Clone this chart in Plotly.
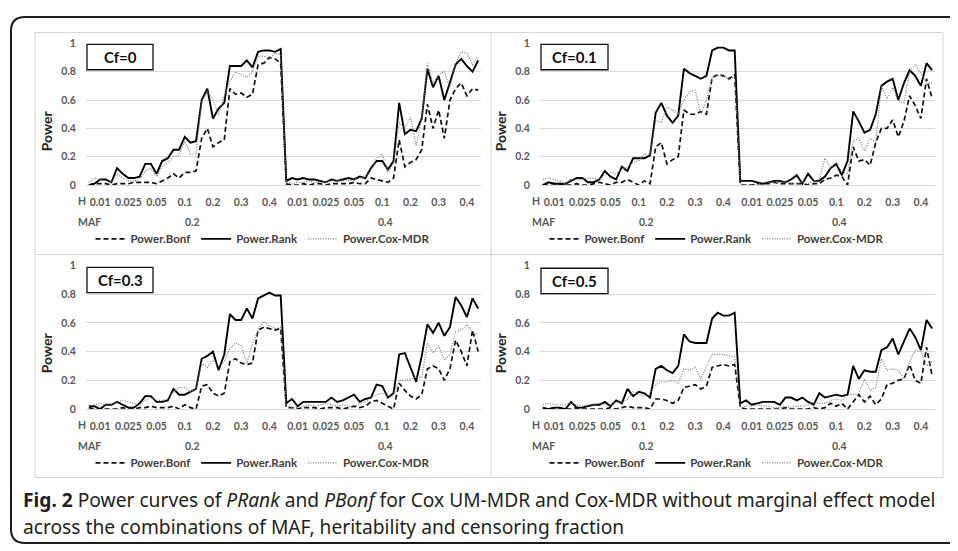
import plotly.graph_objects as go

# ---------------- data ----------------
MAF_LEVELS = ["0.2", "0.4"]
H_LEVELS = ["0.01", "0.025", "0.05", "0.1", "0.2", "0.3", "0.4"]
MODELS_PER_H = 5
CF_LABELS = ["Cf=0", "Cf=0.1", "Cf=0.3", "Cf=0.5"]
SERIES_NAMES = ["Power.Bonf", "Power.Rank", "Power.Cox-MDR"]

BONF_CF0 = [0.00, 0.01, 0.01, 0.01, 0.00, 0.01, 0.01, 0.01, 0.02, 0.02,
            0.02, 0.02, 0.01, 0.03, 0.05, 0.08, 0.05, 0.09, 0.09, 0.10,
            0.33, 0.40, 0.27, 0.30, 0.32, 0.68, 0.64, 0.65, 0.62, 0.64,
            0.85, 0.86, 0.90, 0.89, 0.86, 0.01, 0.00, 0.00, 0.01, 0.00,
            0.01, 0.01, 0.00, 0.01, 0.01, 0.01, 0.01, 0.02, 0.01, 0.01,
            0.05, 0.04, 0.03, 0.02, 0.05, 0.32, 0.13, 0.16, 0.18, 0.25,
            0.57, 0.40, 0.53, 0.33, 0.60, 0.68, 0.72, 0.63, 0.68, 0.67]
RANK_CF0 = [0.00, 0.01, 0.04, 0.04, 0.02, 0.12, 0.08, 0.05, 0.05, 0.06,
            0.15, 0.15, 0.08, 0.17, 0.19, 0.25, 0.25, 0.34, 0.30, 0.31,
            0.60, 0.68, 0.47, 0.54, 0.58, 0.84, 0.84, 0.84, 0.88, 0.83,
            0.94, 0.95, 0.95, 0.94, 0.96, 0.03, 0.05, 0.04, 0.05, 0.04,
            0.04, 0.03, 0.02, 0.04, 0.03, 0.04, 0.05, 0.04, 0.06, 0.05,
            0.12, 0.17, 0.17, 0.11, 0.17, 0.58, 0.36, 0.39, 0.38, 0.47,
            0.82, 0.69, 0.77, 0.60, 0.73, 0.85, 0.89, 0.84, 0.80, 0.88]
COX_CF0 = [0.02, 0.05, 0.04, 0.03, 0.02, 0.08, 0.05, 0.03, 0.03, 0.04,
           0.10, 0.12, 0.06, 0.13, 0.16, 0.20, 0.21, 0.31, 0.22, 0.22,
           0.59, 0.66, 0.60, 0.50, 0.63, 0.73, 0.80, 0.78, 0.76, 0.80,
           0.91, 0.91, 0.89, 0.93, 0.92, 0.02, 0.01, 0.02, 0.02, 0.03,
           0.02, 0.02, 0.02, 0.03, 0.03, 0.03, 0.03, 0.04, 0.05, 0.06,
           0.10, 0.19, 0.22, 0.09, 0.15, 0.44, 0.40, 0.48, 0.28, 0.47,
           0.86, 0.72, 0.78, 0.80, 0.69, 0.86, 0.94, 0.93, 0.85, 0.91]

BONF_CF01 = [0.00, 0.01, 0.01, 0.01, 0.00, 0.00, 0.01, 0.00, 0.00, 0.01,
             0.02, 0.01, 0.00, 0.02, 0.02, 0.04, 0.02, 0.00, 0.03, 0.01,
             0.27, 0.30, 0.15, 0.18, 0.20, 0.53, 0.50, 0.50, 0.52, 0.50,
             0.76, 0.78, 0.77, 0.75, 0.78, 0.00, 0.00, 0.00, 0.01, 0.01,
             0.01, 0.02, 0.01, 0.01, 0.01, 0.01, 0.01, 0.00, 0.01, 0.01,
             0.04, 0.05, 0.07, 0.06, 0.00, 0.27, 0.17, 0.18, 0.14, 0.30,
             0.40, 0.40, 0.46, 0.34, 0.45, 0.63, 0.56, 0.47, 0.75, 0.61]
RANK_CF01 = [0.00, 0.02, 0.01, 0.01, 0.01, 0.03, 0.05, 0.05, 0.02, 0.02,
             0.04, 0.10, 0.06, 0.04, 0.13, 0.10, 0.19, 0.19, 0.19, 0.21,
             0.51, 0.58, 0.49, 0.44, 0.49, 0.82, 0.79, 0.77, 0.75, 0.77,
             0.95, 0.97, 0.97, 0.95, 0.95, 0.03, 0.03, 0.03, 0.02, 0.01,
             0.02, 0.03, 0.03, 0.02, 0.04, 0.07, 0.01, 0.08, 0.03, 0.03,
             0.06, 0.12, 0.15, 0.07, 0.17, 0.52, 0.45, 0.37, 0.39, 0.50,
             0.70, 0.73, 0.75, 0.60, 0.72, 0.81, 0.77, 0.70, 0.86, 0.81]
COX_CF01 = [0.04, 0.05, 0.04, 0.03, 0.01, 0.04, 0.04, 0.04, 0.05, 0.05,
            0.04, 0.07, 0.09, 0.08, 0.11, 0.13, 0.16, 0.17, 0.22, 0.21,
            0.46, 0.44, 0.55, 0.53, 0.50, 0.60, 0.66, 0.67, 0.50, 0.60,
            0.76, 0.77, 0.78, 0.74, 0.77, 0.01, 0.00, 0.00, 0.01, 0.02,
            0.02, 0.02, 0.02, 0.02, 0.01, 0.01, 0.02, 0.01, 0.03, 0.04,
            0.19, 0.12, 0.14, 0.10, 0.08, 0.31, 0.33, 0.24, 0.33, 0.30,
            0.70, 0.61, 0.69, 0.59, 0.58, 0.80, 0.85, 0.79, 0.72, 0.72]

BONF_CF03 = [0.01, 0.00, 0.00, 0.00, 0.00, 0.00, 0.01, 0.00, 0.00, 0.01,
             0.01, 0.02, 0.01, 0.01, 0.01, 0.02, 0.00, 0.03, 0.01, 0.00,
             0.16, 0.17, 0.11, 0.09, 0.11, 0.33, 0.35, 0.32, 0.31, 0.32,
             0.55, 0.57, 0.56, 0.55, 0.56, 0.01, 0.01, 0.00, 0.01, 0.01,
             0.01, 0.00, 0.01, 0.01, 0.01, 0.00, 0.01, 0.02, 0.01, 0.02,
             0.05, 0.06, 0.04, 0.02, 0.00, 0.18, 0.13, 0.09, 0.07, 0.10,
             0.28, 0.30, 0.28, 0.20, 0.28, 0.48, 0.40, 0.30, 0.55, 0.40]
RANK_CF03 = [0.02, 0.02, 0.00, 0.03, 0.03, 0.05, 0.03, 0.01, 0.01, 0.04,
             0.09, 0.09, 0.05, 0.05, 0.06, 0.14, 0.10, 0.10, 0.12, 0.14,
             0.35, 0.37, 0.40, 0.27, 0.38, 0.66, 0.62, 0.62, 0.70, 0.63,
             0.77, 0.79, 0.81, 0.79, 0.79, 0.04, 0.07, 0.02, 0.05, 0.05,
             0.05, 0.05, 0.05, 0.08, 0.05, 0.06, 0.08, 0.10, 0.05, 0.07,
             0.08, 0.17, 0.16, 0.08, 0.11, 0.38, 0.39, 0.29, 0.19, 0.37,
             0.59, 0.53, 0.60, 0.51, 0.57, 0.78, 0.72, 0.64, 0.77, 0.70]
COX_CF03 = [0.02, 0.03, 0.04, 0.03, 0.03, 0.05, 0.06, 0.05, 0.04, 0.03,
            0.06, 0.08, 0.06, 0.06, 0.07, 0.12, 0.15, 0.15, 0.12, 0.14,
            0.32, 0.29, 0.34, 0.30, 0.33, 0.42, 0.46, 0.44, 0.32, 0.45,
            0.55, 0.61, 0.58, 0.56, 0.57, 0.02, 0.01, 0.01, 0.02, 0.03,
            0.02, 0.03, 0.04, 0.03, 0.02, 0.03, 0.02, 0.01, 0.04, 0.05,
            0.08, 0.10, 0.11, 0.09, 0.10, 0.20, 0.20, 0.21, 0.22, 0.22,
            0.46, 0.39, 0.44, 0.34, 0.38, 0.54, 0.55, 0.59, 0.53, 0.52]

BONF_CF05 = [0.00, 0.00, 0.01, 0.00, 0.00, 0.00, 0.01, 0.00, 0.00, 0.00,
             0.00, 0.00, 0.01, 0.00, 0.01, 0.02, 0.01, 0.01, 0.01, 0.00,
             0.07, 0.07, 0.06, 0.04, 0.06, 0.15, 0.16, 0.17, 0.14, 0.16,
             0.29, 0.30, 0.31, 0.30, 0.31, 0.01, 0.00, 0.00, 0.00, 0.00,
             0.00, 0.00, 0.00, 0.01, 0.00, 0.00, 0.00, 0.00, 0.01, 0.00,
             0.01, 0.04, 0.02, 0.04, 0.00, 0.05, 0.10, 0.05, 0.09, 0.03,
             0.07, 0.17, 0.18, 0.20, 0.21, 0.31, 0.20, 0.18, 0.43, 0.23]
RANK_CF05 = [0.01, 0.00, 0.01, 0.01, 0.00, 0.05, 0.01, 0.01, 0.02, 0.03,
             0.03, 0.05, 0.02, 0.06, 0.04, 0.14, 0.09, 0.12, 0.11, 0.08,
             0.28, 0.30, 0.27, 0.25, 0.30, 0.52, 0.47, 0.46, 0.46, 0.46,
             0.63, 0.67, 0.65, 0.65, 0.67, 0.04, 0.06, 0.03, 0.04, 0.05,
             0.05, 0.05, 0.03, 0.08, 0.08, 0.06, 0.08, 0.05, 0.03, 0.11,
             0.08, 0.09, 0.10, 0.09, 0.10, 0.30, 0.21, 0.27, 0.26, 0.26,
             0.41, 0.43, 0.49, 0.38, 0.47, 0.56, 0.50, 0.41, 0.62, 0.56]
COX_CF05 = [0.03, 0.04, 0.03, 0.03, 0.03, 0.04, 0.03, 0.02, 0.03, 0.03,
            0.04, 0.03, 0.03, 0.05, 0.04, 0.07, 0.12, 0.10, 0.09, 0.11,
            0.17, 0.19, 0.19, 0.20, 0.18, 0.28, 0.27, 0.29, 0.21, 0.30,
            0.38, 0.38, 0.38, 0.37, 0.36, 0.01, 0.02, 0.02, 0.03, 0.02,
            0.02, 0.01, 0.01, 0.02, 0.01, 0.02, 0.02, 0.03, 0.05, 0.04,
            0.04, 0.06, 0.07, 0.06, 0.10, 0.10, 0.11, 0.21, 0.13, 0.15,
            0.35, 0.27, 0.28, 0.27, 0.21, 0.33, 0.41, 0.40, 0.30, 0.33]

# ---------------- layout helpers ----------------
# The page body has an 8px margin: the figure is drawn 8px smaller and all
# design coordinates (window pixels) are shifted by that offset.
OFF = 8
W, H = 958 - OFF, 551 - OFF


def px(x):
    return (x - OFF) / W


def py(y):
    return 1 - (y - OFF) / H


N = len(MAF_LEVELS) * len(H_LEVELS) * MODELS_PER_H
X_IDX = list(range(N))
GROUP_CENTERS = [g * MODELS_PER_H + (MODELS_PER_H - 1) / 2
                 for g in range(len(MAF_LEVELS) * len(H_LEVELS))]
TICK_TEXT = H_LEVELS * len(MAF_LEVELS)

PANELS = [
    dict(cf=CF_LABELS[0], data=[BONF_CF0, RANK_CF0, COX_CF0],
         plot=(86, 481, 38, 183), frame=(35, 491), cfbox=(87, 153, 39, 65)),
    dict(cf=CF_LABELS[1], data=[BONF_CF01, RANK_CF01, COX_CF01],
         plot=(540, 935, 38, 183), frame=(491, 943), cfbox=(541, 608, 39, 65)),
    dict(cf=CF_LABELS[2], data=[BONF_CF03, RANK_CF03, COX_CF03],
         plot=(86, 481, 265, 412), frame=(35, 491), cfbox=(87, 153, 267, 293)),
    dict(cf=CF_LABELS[3], data=[BONF_CF05, RANK_CF05, COX_CF05],
         plot=(540, 935, 265, 412), frame=(491, 943), cfbox=(541, 608, 268, 294)),
]

STYLES = [
    dict(color="#111111", width=1.7, dash="5px,3px"),
    dict(color="#000000", width=1.9, dash="solid"),
    dict(color="#7a7a7a", width=1.2, dash="1px,1.5px"),
]

FONT = "Lato"
TICK_FONT = dict(family=FONT, size=10.5, color="#595959", weight="bold")
GRID = "#d9d9d9"

fig = go.Figure()
layout = dict(
    width=W, height=H, autosize=False,
    margin=dict(l=0, r=0, t=0, b=0),
    paper_bgcolor="white", plot_bgcolor="white",
    showlegend=True,
)
shapes = []
annotations = []

# light-grey frames of the four chart panels
FRAME = "#d4d4d4"
shapes.append(dict(type="rect", xref="paper", yref="paper",
                   x0=px(35), x1=px(943), y0=py(482), y1=py(27),
                   line=dict(color=FRAME, width=1), layer="below"))
shapes.append(dict(type="line", xref="paper", yref="paper",
                   x0=px(491), x1=px(491), y0=py(482), y1=py(27),
                   line=dict(color=FRAME, width=1), layer="below"))
shapes.append(dict(type="line", xref="paper", yref="paper",
                   x0=px(35), x1=px(943), y0=py(254), y1=py(254),
                   line=dict(color=FRAME, width=1), layer="below"))

# outer black rounded border (open to the right)
r = 14
L, T, B, R = 11, 11, 549, 990
path = (f"M {px(R)},{py(T)} L {px(L + r)},{py(T)} "
        f"Q {px(L)},{py(T)} {px(L)},{py(T + r)} "
        f"L {px(L)},{py(B - r)} Q {px(L)},{py(B)} {px(L + r)},{py(B)} "
        f"L {px(R)},{py(B)}")
shapes.append(dict(type="path", xref="paper", yref="paper", path=path,
                   line=dict(color="#1a1a1a", width=2)))

per_maf = len(H_LEVELS) * MODELS_PER_H
for k, p in enumerate(PANELS):
    n = "" if k == 0 else str(k + 1)
    xa, ya = "x" + n, "y" + n
    leg = "legend" + n
    x0, x1, yt, yb = p["plot"]
    for s, (name, vals) in enumerate(zip(SERIES_NAMES, p["data"])):
        fig.add_trace(go.Scatter(
            x=X_IDX, y=vals, mode="lines", name=name,
            line=STYLES[s], xaxis=xa, yaxis=ya, legend=leg,
            hoverinfo="skip"))
    layout["xaxis" + n] = dict(
        domain=[px(x0), px(x1)], range=[-0.5, N - 0.5], anchor=ya,
        tickmode="array", tickvals=GROUP_CENTERS, ticktext=TICK_TEXT,
        tickangle=0, tickfont=TICK_FONT, showgrid=False, zeroline=False,
        showline=True, linecolor=GRID, linewidth=1,
        ticks="outside", ticklen=7, tickcolor="rgba(0,0,0,0)")
    layout["yaxis" + n] = dict(
        domain=[py(yb), py(yt)], range=[0, 1], anchor=xa,
        tickmode="array", tickvals=[0, 0.2, 0.4, 0.6, 0.8, 1],
        ticktext=["0", "0.2", "0.4", "0.6", "0.8", "1"],
        tickfont=TICK_FONT, showgrid=True, gridcolor=GRID, gridwidth=1,
        zeroline=False, showline=False,
        ticks="outside", ticklen=7, tickcolor="rgba(0,0,0,0)")
    fx0, fx1 = p["frame"]
    layout[leg] = dict(
        orientation="h", x=px((fx0 + fx1) / 2), xanchor="center",
        y=py(yb + 55), yanchor="middle",
        font=dict(family=FONT, size=11.5, color="#404040", weight="bold"),
        bgcolor="rgba(0,0,0,0)", itemwidth=30, traceorder="normal")
    # Cf box
    bx0, bx1, by0, by1 = p["cfbox"]
    shapes.append(dict(type="rect", xref="paper", yref="paper",
                       x0=px(bx0), x1=px(bx1), y0=py(by1), y1=py(by0),
                       fillcolor="white", line=dict(color="#111111", width=1.3),
                       layer="above"))
    annotations.append(dict(xref="paper", yref="paper",
                            x=px((bx0 + bx1) / 2), y=py((by0 + by1) / 2),
                            xanchor="center", yanchor="middle",
                            text=p["cf"], showarrow=False,
                            font=dict(family=FONT, size=15, color="#111111", weight="bold")))
    # y title
    annotations.append(dict(xref="paper", yref="paper",
                            x=px(x0 - 40), y=py(yt + 90),
                            xanchor="center", yanchor="middle",
                            text="Power", textangle=-90, showarrow=False,
                            font=dict(family=FONT, size=14, color="#262626", weight="bold")))
    # "H" header of the heritability row and "MAF" header of the MAF row
    annotations.append(dict(xref=xa, yref="paper", x=-0.5, y=py(yb + 16),
                            text="H", xanchor="left", yanchor="middle",
                            xshift=-10, showarrow=False, font=TICK_FONT))
    annotations.append(dict(xref=xa, yref="paper", x=-0.5, y=py(yb + 38),
                            text="MAF", xanchor="left", yanchor="middle",
                            xshift=-10, showarrow=False, font=TICK_FONT))
    for m, lab in enumerate(MAF_LEVELS):
        annotations.append(dict(xref=xa, yref="paper",
                                x=m * per_maf + (per_maf - 1) / 2, y=py(yb + 38),
                                xanchor="center", yanchor="middle",
                                text=lab, showarrow=False, xshift=8 if m == 0 else 3,
                                font=TICK_FONT))

# caption
CAPTION_LINES = [
    "<b>Fig. 2</b> Power curves of <i>PRank</i> and <i>PBonf</i> for Cox UM-MDR "
    "and Cox-MDR without marginal effect model",
    "across the combinations of MAF, heritability and censoring fraction",
]
for i, line in enumerate(CAPTION_LINES):
    annotations.append(dict(xref="paper", yref="paper", x=px(21), y=py(504 + 28 * i),
                            xanchor="left", yanchor="middle", align="left",
                            text=line, showarrow=False,
                            font=dict(family="Noto Sans", size=19.2, color="#231f20")))

layout["shapes"] = shapes
layout["annotations"] = annotations
fig.update_layout(**layout)
fig.write_html("out.html")
